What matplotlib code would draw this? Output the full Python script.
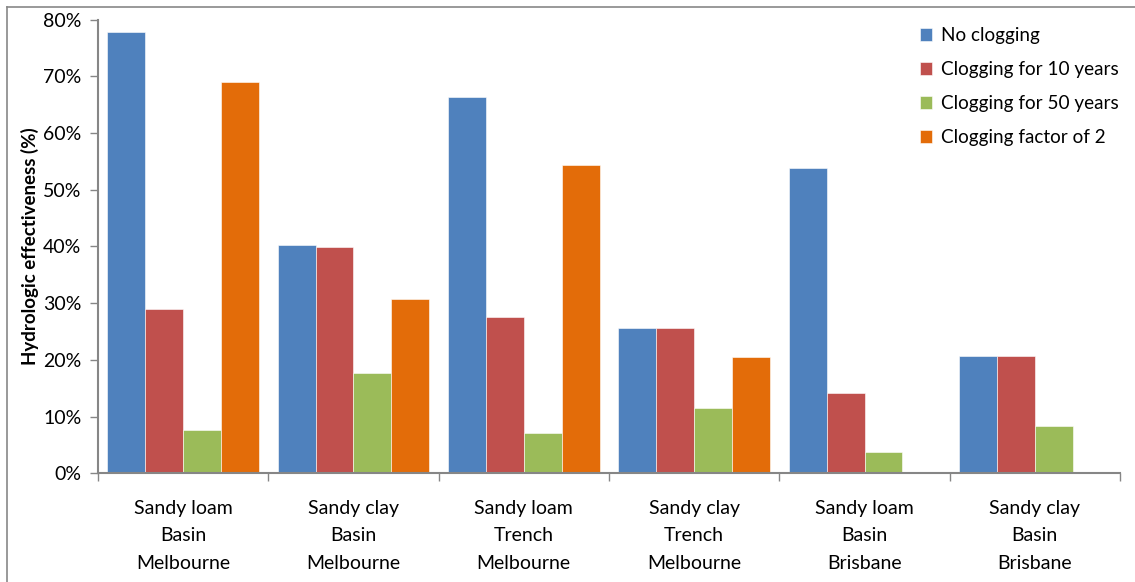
import matplotlib.pyplot as plt
import numpy as np
from matplotlib.lines import Line2D
from matplotlib.ticker import FuncFormatter, MultipleLocator

plt.rcParams['font.family'] = ['Lato', 'DejaVu Sans']

sites = ['Sandy loam\nBasin\nMelbourne', 'Sandy clay\nBasin\nMelbourne',
         'Sandy loam\nTrench\nMelbourne', 'Sandy clay\nTrench\nMelbourne',
         'Sandy loam\nBasin\nBrisbane', 'Sandy clay\nBasin\nBrisbane']
series_names = ['No clogging', 'Clogging for 10 years',
                'Clogging for 50 years', 'Clogging factor of 2']
no_clogging = [77.8, 40.3, 66.4, 25.6, 53.8, 20.7]
clog_10yr = [29.0, 39.9, 27.5, 25.6, 14.2, 20.6]
clog_50yr = [7.6, 17.7, 7.1, 11.5, 3.8, 8.3]
clog_factor2 = [69.0, 30.8, 54.4, 20.5, 0.0, 0.0]
colors = ['#4F81BD', '#C0504D', '#9BBB59', '#E36C09']

fig = plt.figure(figsize=(11.35, 5.82), dpi=100)
ax = fig.add_axes([0.0863, 0.1868, 0.9005, 0.7794])

x = np.arange(len(sites))
width = 1 / 4.5
for i, (vals, name, c) in enumerate(zip([no_clogging, clog_10yr, clog_50yr, clog_factor2],
                                         series_names, colors)):
    ax.bar(x - 1.5 * width + i * width, vals, width, color=c, label=name,
           edgecolor='white', linewidth=0.4)

ax.set_xlim(-0.5, len(sites) - 0.5)
ax.set_ylim(0, 80)
ax.yaxis.set_major_locator(MultipleLocator(10))
ax.yaxis.set_major_formatter(FuncFormatter(lambda v, p: f'{v:.0f}%'))

ax.set_xticks(x)
ax.set_xticklabels(sites, fontsize=14, linespacing=1.75)
ax.set_xticks(np.arange(len(sites) + 1) - 0.5, minor=True)
ax.tick_params(axis='x', which='major', length=0, pad=19)
ax.tick_params(axis='x', which='minor', length=6, color='#868686', width=1)
ax.tick_params(axis='y', length=6, color='#868686', width=1, labelsize=14, pad=6)

for side in ['top', 'right']:
    ax.spines[side].set_visible(False)
for side in ['left', 'bottom']:
    ax.spines[side].set_color('#868686')
    ax.spines[side].set_linewidth(1.5)

ax.set_ylabel('Hydrologic effectiveness (%)', fontsize=13.5, fontweight='bold', labelpad=3)

ax.legend(loc='upper left', bbox_to_anchor=(0.793, 1.008), frameon=False, fontsize=13.6,
          handlelength=0.65, handleheight=0.65, handletextpad=0.45, labelspacing=0.9,
          borderaxespad=0.2)

# outer chart frame (top and left edges)
fig.add_artist(Line2D([7 / 1135, 1.0], [1 - 7 / 582] * 2, color='#888888', lw=1.2))
fig.add_artist(Line2D([7 / 1135] * 2, [0, 1 - 7 / 582], color='#888888', lw=1.2))

fig.savefig('out.png', dpi=100)
